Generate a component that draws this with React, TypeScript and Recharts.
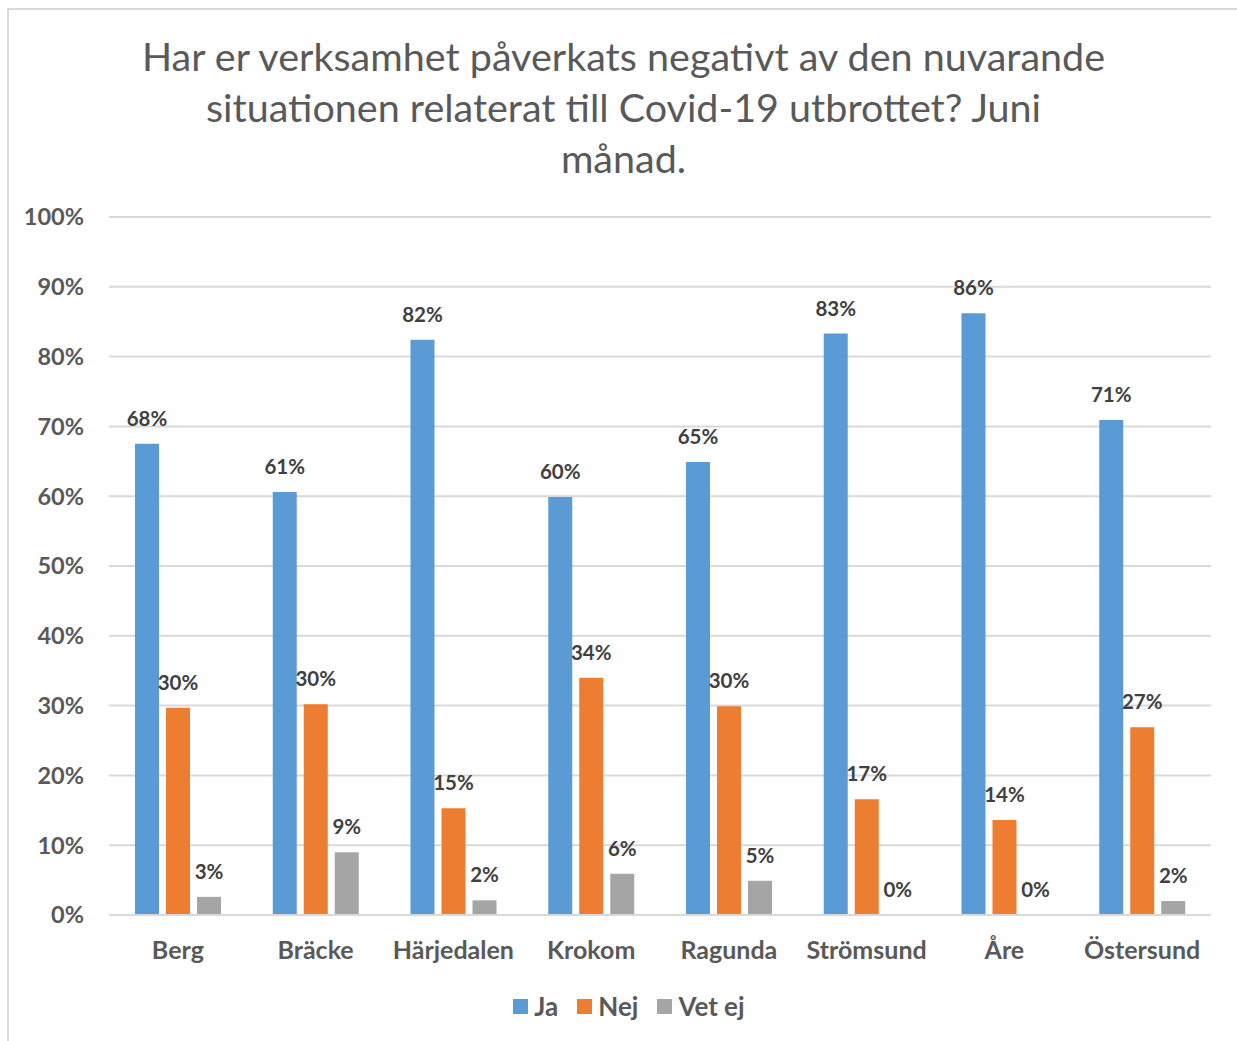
import React from 'react';
import { BarChart, Bar, XAxis, YAxis, CartesianGrid, LabelList } from 'recharts';

const titleLines = [
  'Har er verksamhet påverkats negativt av den nuvarande',
  'situationen relaterat till Covid-19 utbrottet? Juni',
  'månad.',
];

const kommuner = ['Berg', 'Bräcke', 'Härjedalen', 'Krokom', 'Ragunda', 'Strömsund', 'Åre', 'Östersund'];
const ja = [67.5, 60.6, 82.4, 59.9, 64.9, 83.3, 86.2, 70.9];
const nej = [29.7, 30.2, 15.3, 34.0, 29.9, 16.6, 13.6, 26.9];
const vetEj = [2.6, 9.0, 2.1, 5.9, 4.9, 0, 0, 2.0];

const seriesNames = ['Ja', 'Nej', 'Vet ej'];
const seriesKeys = ['ja', 'nej', 'vetEj'];
const colors = ['#5B9BD5', '#ED7D31', '#A5A5A5'];
const yTicks = [0, 10, 20, 30, 40, 50, 60, 70, 80, 90, 100];

const data = kommuner.map((name, i) => ({
  name,
  ja: ja[i],
  nej: nej[i],
  vetEj: vetEj[i],
}));

const FONT = 'Lato, "Open Sans", sans-serif';

// own label so that 0-values also get a text
const renderLabel = (props: any) => {
  const { x, y, width, value } = props;
  if (value == null) return null;
  return (
    <text
      x={Number(x) + Number(width) / 2}
      y={Number(y) - 18}
      textAnchor="middle"
      fill="#404040"
      fontSize={20.5}
      fontWeight={700}
      fontFamily={FONT}
    >
      {`${Math.round(Number(value))}%`}
    </text>
  );
};

export default function App() {
  return (
    <div style={{ position: 'fixed', left: 0, top: 0, width: 1237, height: 1041, overflow: 'hidden', background: '#fff', fontFamily: FONT }}>
      <div style={{ position: 'absolute', left: 7, top: 8, width: 1260, height: 1060, border: '2px solid #d9d9d9', boxSizing: 'border-box' }} />
      <div style={{ position: 'absolute', left: 0, top: 30, width: 1247, textAlign: 'center', color: '#595959', fontSize: 39.5, lineHeight: '51px' }}>
        {titleLines.map((l) => (
          <div key={l}>{l}</div>
        ))}
      </div>
      <div style={{ position: 'absolute', left: 0, top: 0 }}>
        <BarChart
          width={1237}
          height={1041}
          data={data}
          margin={{ top: 217, right: 26, left: 9, bottom: 0 }}
          barCategoryGap={26}
          barGap={7}
        >
          <CartesianGrid vertical={false} stroke="#d9d9d9" strokeWidth={2} />
          <XAxis
            dataKey="name"
            height={126}
            axisLine={{ stroke: '#d9d9d9', strokeWidth: 2 }}
            tickLine={false}
            tickSize={0}
            tickMargin={26}
            tick={{ fill: '#595959', fontSize: 25, fontWeight: 700, fontFamily: FONT }}
            interval={0}
          />
          <YAxis
            width={100}
            domain={[0, 100]}
            ticks={yTicks}
            axisLine={false}
            tickLine={false}
            tickSize={0}
            tickMargin={25}
            tickFormatter={(v) => `${v}%`}
            tick={{ fill: '#595959', fontSize: 23.5, fontWeight: 700, fontFamily: FONT }}
          />
          {seriesKeys.map((k, i) => (
            <Bar key={k} dataKey={k} name={seriesNames[i]} fill={colors[i]} minPointSize={0.01} isAnimationActive={false}>
              <LabelList dataKey={k} content={renderLabel} />
            </Bar>
          ))}
        </BarChart>
      </div>
      <div style={{ position: 'absolute', left: 0, top: 990, width: 1258, display: 'flex', justifyContent: 'center', color: '#595959', fontSize: 26, fontWeight: 700, lineHeight: '32px' }}>
        {seriesNames.map((n, i) => (
          <div key={n} style={{ display: 'flex', alignItems: 'center', marginRight: i < seriesNames.length - 1 ? 19 : 0 }}>
            <span style={{ display: 'inline-block', width: 15, height: 15, background: colors[i], marginRight: 6 }} />
            <span>{n}</span>
          </div>
        ))}
      </div>
    </div>
  );
}
